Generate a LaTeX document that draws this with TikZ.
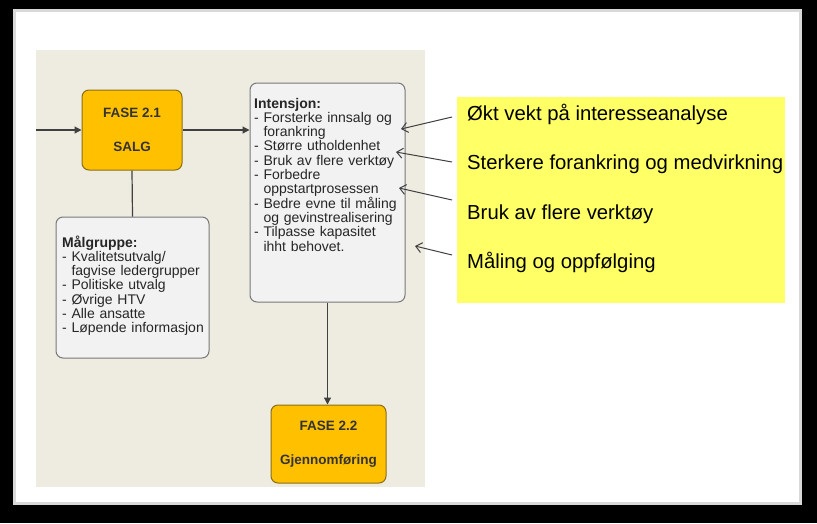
\documentclass[tikz,border=0pt]{standalone}
\usepackage{fontspec}
\setmainfont{Liberation Sans}
\usepackage{tikz}
\usetikzlibrary{arrows, arrows.meta}

\definecolor{panelbg}{RGB}{238,236,225}
\definecolor{faseorange}{RGB}{255,192,0}
\definecolor{faseborder}{RGB}{140,110,20}
\definecolor{notefill}{RGB}{242,242,242}
\definecolor{noteborder}{RGB}{120,120,120}
\definecolor{hiyellow}{RGB}{255,255,102}
\definecolor{linegray}{RGB}{64,64,64}

\begin{document}
\begin{tikzpicture}[x=1pt, y=-1pt,
	fase/.style={draw=faseborder, fill=faseorange, rounded corners=7pt, line width=1pt, align=center, text=black!80, font=\fontsize{13.5}{34}\selectfont\bfseries},
	note/.style={draw=noteborder, fill=notefill, rounded corners=7pt, line width=1pt},
	notetext/.style={inner sep=0pt, anchor=base west, text width=150pt, align=left, text=black!85, font=\fontsize{14}{14.3}\selectfont},
	hitext/.style={inner sep=0pt, anchor=base west, font=\fontsize{20.3}{22}\selectfont},
	flow/.style={-{Triangle[length=7pt, width=7pt]}, draw=linegray, line width=1.2pt},
	hint/.style={-{Straight Barb[length=6pt, width=10pt]}, draw=linegray, line width=1pt}]
	\useasboundingbox (0,0) rectangle (817,523);
	% frame and backgrounds
	\fill[black] (0,0) rectangle (817,523);
	\fill[white, draw=gray!30, line width=3pt] (14.5,10.5) rectangle (800.5,503.5);
	\fill[panelbg] (36,50) rectangle (425,487);

	\node[fase, minimum width=100pt, minimum height=80pt] (salg) at (132,130) {FASE 2.1\\SALG};
	\node[note, minimum width=155pt, minimum height=219pt] (intensjon) at (327.5,192.5) {};
	\node[note, minimum width=153pt, minimum height=141pt] (malgruppe) at (132.5,287.5) {};
	\node[fase, minimum width=115pt, minimum height=78pt] (gjennomforing) at (328.5,444) {FASE 2.2\\Gjennomføring};
	\node[fill=hiyellow, minimum width=328pt, minimum height=206pt] (tiltak) at (621,200) {};

	\node[notetext] (intensjontext) at (254,108) {\textbf{Intensjon:}\\
		- Forsterke innsalg og\\
		\hphantom{- }forankring\\
		- Større utholdenhet\\
		- Bruk av flere verktøy\\
		- Forbedre\\
		\hphantom{- }oppstartprosessen\\
		- Bedre evne til måling\\
		\hphantom{- }og gevinstrealisering\\
		- Tilpasse kapasitet\\
		\hphantom{- }ihht behovet.};
	\node[notetext, text width=145pt] (malgruppetext) at (62,247) {\textbf{Målgruppe:}\\
		- Kvalitetsutvalg/\\
		\hphantom{- }fagvise ledergrupper\\
		- Politiske utvalg\\
		- Øvrige HTV\\
		- Alle ansatte\\
		- Løpende informasjon};

	\node[hitext] (tiltak1) at (467,120) {Økt vekt på interesseanalyse};
	\node[hitext] (tiltak2) at (467,169.5) {Sterkere forankring og medvirkning};
	\node[hitext] (tiltak3) at (467,219) {Bruk av flere verktøy};
	\node[hitext] (tiltak4) at (467,268) {Måling og oppfølging};

	% flow between phases
	\coordinate (inn) at (36,130);
	\draw[flow] (inn) -- (salg.west);
	\draw[flow] (salg.east) -- (intensjon.west |- salg.east);
	\draw[draw=linegray, line width=1.2pt] (salg.south) -- (malgruppe.north);
	\draw[flow] (intensjon.south) -- (intensjon.south |- gjennomforing.north);

	% pointers from the yellow list
	\coordinate (fra1) at (452,117);
	\coordinate (fra2) at (452,162);
	\coordinate (fra3) at (452,200);
	\coordinate (fra4) at (452,255);
	\coordinate (til1) at (401,129);
	\coordinate (til2) at (396,152);
	\coordinate (til3) at (399,188);
	\coordinate (til4) at (415,246);
	\foreach \i in {1,...,4}
		\draw[hint] (fra\i) -- (til\i);
\end{tikzpicture}
\end{document}
